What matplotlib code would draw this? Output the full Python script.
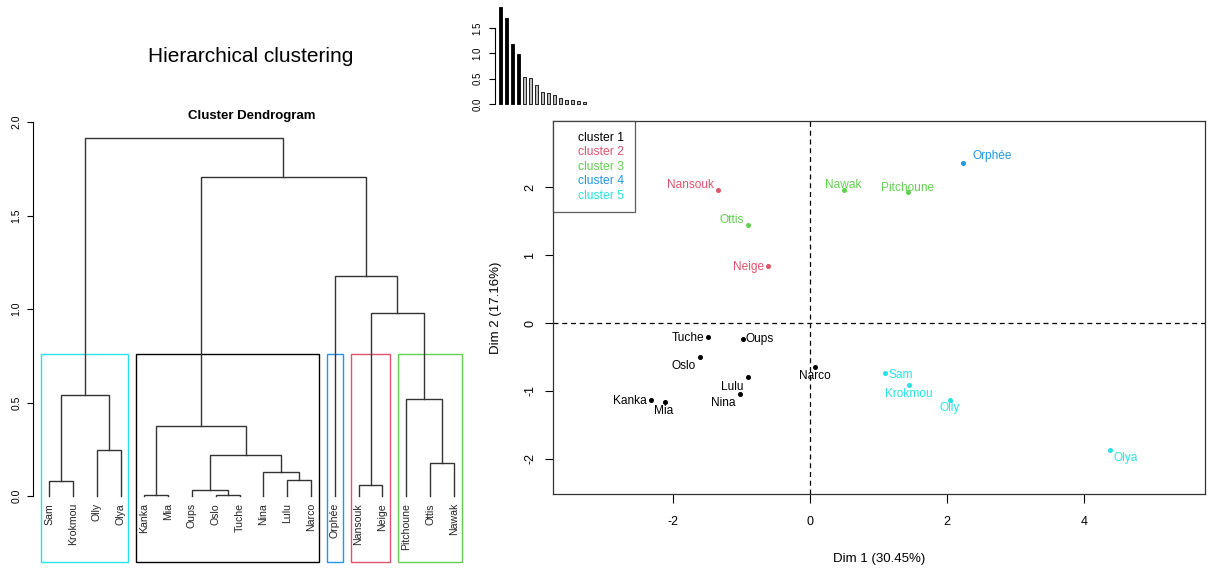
""" plot.py
Hierarchical clustering on principal components: dendrogram, inertia gain
barplot and factor map coloured by cluster.
"""

#------------------------------------------------------------------------------
#--- (0) Imports
#------------------------------------------------------------------------------
import numpy as np
import matplotlib
matplotlib.use("Agg")
import matplotlib.pyplot as plt
from matplotlib.patches import Rectangle
from matplotlib.lines import Line2D

plt.rcParams["font.family"] = ["Liberation Sans", "DejaVu Sans"]
plt.rcParams["axes.unicode_minus"] = False  # R draws a plain hyphen


#------------------------------------------------------------------------------
#--- (1) Data
#------------------------------------------------------------------------------
# leaf order of the dendrogram (left to right)
leaf_order = ["Sam", "Krokmou", "Olly", "Olya", "Kanka", "Mia", "Oups", "Oslo",
              "Tuche", "Nina", "Lulu", "Narco", "Orphée", "Nansouk", "Neige",
              "Pitchoune", "Ottis", "Nawak"]

# merges, in order: node "m<k>" is the k-th merge (1 based)
merge_left = ["Kanka", "Oslo", "Oups", "Nansouk", "Sam", "Lulu", "Nina", "Ottis",
              "m3", "Olly", "m1", "Pitchoune", "m5", "m4", "Orphée", "m11", "m13"]
merge_right = ["Mia", "Tuche", "m2", "Neige", "Krokmou", "Narco", "m6", "Nawak",
               "m7", "Olya", "m9", "m8", "m10", "m12", "m14", "m15", "m16"]
merge_height = [0.005, 0.005, 0.032, 0.057, 0.082, 0.086, 0.128, 0.175, 0.218,
                0.244, 0.373, 0.521, 0.541, 0.978, 1.174, 1.704, 1.914]

# cluster boxes on the dendrogram (groups of consecutive leaves)
box_sizes = [4, 8, 1, 2, 3]
box_clusters = [5, 1, 4, 2, 3]

# inertia gain barplot (first 15 values)
inertia_gain = [1.914, 1.704, 1.174, 0.978, 0.541, 0.521, 0.373, 0.244, 0.218,
                0.175, 0.128, 0.086, 0.082, 0.057, 0.032]
n_clusters = 5

# factor map
ind_names = ["Orphée", "Nansouk", "Nawak", "Pitchoune", "Ottis", "Neige", "Tuche",
             "Oups", "Oslo", "Narco", "Lulu", "Nina", "Kanka", "Mia", "Sam",
             "Krokmou", "Olly", "Olya"]
dim1 = [2.24, -1.35, 0.49, 1.43, -0.91, -0.61, -1.49, -0.98, -1.61, 0.07, -0.91,
        -1.02, -2.32, -2.11, 1.10, 1.44, 2.04, 4.38]
dim2 = [2.36, 1.96, 1.96, 1.92, 1.44, 0.84, -0.20, -0.23, -0.50, -0.65, -0.80,
        -1.05, -1.13, -1.16, -0.74, -0.91, -1.13, -1.87]
ind_cluster = [4, 2, 3, 3, 3, 2, 1, 1, 1, 1, 1, 1, 1, 1, 5, 5, 5, 5]

x_tick_vals = [-2, 0, 2, 4]
y_tick_vals = [-2, -1, 0, 1, 2]

# label placement on the factor map (text centre, data units)
LABEL_POS = {
    "Orphée": (2.66, 2.46), "Nansouk": (-1.75, 2.03), "Nawak": (0.48, 2.03),
    "Pitchoune": (1.43, 1.99), "Ottis": (-1.14, 1.51), "Neige": (-0.90, 0.83),
    "Tuche": (-1.78, -0.22), "Oups": (-0.73, -0.24), "Oslo": (-1.85, -0.63),
    "Narco": (0.07, -0.78), "Lulu": (-1.13, -0.94), "Nina": (-1.26, -1.18),
    "Kanka": (-2.63, -1.15), "Mia": (-2.13, -1.29), "Sam": (1.33, -0.77),
    "Krokmou": (1.44, -1.04), "Olly": (2.04, -1.25), "Olya": (4.61, -1.98),
}

# R default palette
CLUSTER_COLOURS = {1: "#000000", 2: "#DF536B", 3: "#61D04F", 4: "#2297E6", 5: "#28E2E5"}

W, H = 1208, 570
fig = plt.figure(figsize=(W / 100, H / 100), dpi=100)


def px_axes(left, top, right, bottom):
    # axes placed with pixel coordinates of the picture
    return fig.add_axes([left / W, 1 - bottom / H, (right - left) / W, (bottom - top) / H])


#------------------------------------------------------------------------------
#--- (2) Dendrogram
#------------------------------------------------------------------------------
ax_d = px_axes(33, 122, 470, 562.4)
ylim_bottom = -0.355

pos = {name: i + 1 for i, name in enumerate(leaf_order)}
top = {name: 0.0 for name in leaf_order}
for k, (a, b, h) in enumerate(zip(merge_left, merge_right, merge_height)):
    xa, xb = pos[a], pos[b]
    ax_d.plot([xa, xa, xb, xb], [top[a], h, h, top[b]], color="#333333", lw=1.0,
              solid_joinstyle="miter")
    node = "m%d" % (k + 1)
    pos[node] = (xa + xb) / 2
    top[node] = h

for name in leaf_order:
    ax_d.text(pos[name], -0.038, name, rotation=90, rotation_mode="anchor",
              ha="right", va="center", fontsize=7.6, color="#222222")

# cluster rectangles (as rect.hclust)
sorted_h = sorted(merge_height, reverse=True)
box_top = (sorted_h[n_clusters - 2] + sorted_h[n_clusters - 1]) / 2
start = 1
for size, cl in zip(box_sizes, box_clusters):
    x0 = start - 0.34
    x1 = start + size - 1 + 0.33
    ax_d.add_patch(Rectangle((x0, ylim_bottom), x1 - x0, box_top - ylim_bottom,
                             fill=False, ec=CLUSTER_COLOURS[cl], lw=1.0, clip_on=False))
    start += size

ax_d.set_xlim(0.32, 18.68)
ax_d.set_ylim(ylim_bottom, 2.0)
for s in ["top", "right", "bottom"]:
    ax_d.spines[s].set_visible(False)
ax_d.spines["left"].set_bounds(0, 2)
ax_d.spines["left"].set_linewidth(0.8)
ax_d.set_xticks([])
ax_d.set_yticks([0, 0.5, 1.0, 1.5, 2.0])
ax_d.set_yticklabels(["0.0", "0.5", "1.0", "1.5", "2.0"], rotation=90, va="center")
ax_d.tick_params(axis="y", length=4.5, width=0.8, labelsize=7.5, pad=4)
ax_d.set_title("Cluster Dendrogram", fontsize=9.5, fontweight="bold", pad=-2)

fig.text(251 / W, 1 - 56 / H, "Hierarchical clustering", fontsize=15,
         ha="center", va="center")


#------------------------------------------------------------------------------
#--- (3) Inertia gain barplot
#------------------------------------------------------------------------------
ax_b = px_axes(495, 3.1, 605, 107.9)
bar_x = 0.7 + 1.2 * np.arange(len(inertia_gain))
bar_cols = ["black" if i < n_clusters - 1 else "#BEBEBE" for i in range(len(inertia_gain))]
ax_b.bar(bar_x, inertia_gain, width=0.78, color=bar_cols, edgecolor="black", lw=0.6)
ax_b.set_xlim(-0.4, 21.6)
ax_b.set_ylim(-0.077, 1.99)
for s in ["top", "right", "bottom"]:
    ax_b.spines[s].set_visible(False)
ax_b.spines["left"].set_bounds(0, 1.5)
ax_b.spines["left"].set_linewidth(0.8)
ax_b.set_xticks([])
ax_b.set_yticks([0, 0.5, 1.0, 1.5])
ax_b.set_yticklabels(["0.0", "0.5", "1.0", "1.5"], rotation=90, va="center")
ax_b.tick_params(axis="y", length=4, width=0.8, labelsize=7, pad=5)


#------------------------------------------------------------------------------
#--- (4) Factor map
#------------------------------------------------------------------------------
ax = px_axes(553, 121, 1205, 494)
ax.axvline(0, color="black", ls=(0, (4, 3)), lw=0.9)
ax.axhline(0, color="black", ls=(0, (4, 3)), lw=0.9)

for name, x, y, cl in zip(ind_names, dim1, dim2, ind_cluster):
    col = CLUSTER_COLOURS[cl]
    ax.plot(x, y, "o", ms=2.6, color=col, mec=col)
    lx, ly = LABEL_POS[name]
    ax.text(lx, ly, name, color=col, fontsize=8.6, ha="center", va="center")

ax.set_xlim(-3.752, 5.766)
ax.set_ylim(-2.515, 2.971)
ax.set_xticks(x_tick_vals)
ax.set_yticks(y_tick_vals)
ax.set_yticklabels([str(v) for v in y_tick_vals], rotation=90, va="center")
ax.tick_params(axis="x", length=6.5, width=0.8, labelsize=9, pad=9)
ax.tick_params(axis="y", length=6, width=0.8, labelsize=9, pad=6)
for s in ax.spines.values():
    s.set_linewidth(0.9)
    s.set_color("#333333")
ax.set_xlabel("Dim 1 (30.45%)", fontsize=9.5, labelpad=18)
ax.set_ylabel("Dim 2 (17.16%)", fontsize=9.5, labelpad=16)

handles = [Line2D([], [], ls="none") for _ in range(n_clusters)]
leg = ax.legend(handles, ["cluster %d" % (i + 1) for i in range(n_clusters)],
                loc="upper left", borderaxespad=0, fancybox=False, fontsize=8.7,
                handlelength=0.8, handletextpad=0.4, labelspacing=0.2,
                borderpad=0.9,
                labelcolor=[CLUSTER_COLOURS[i + 1] for i in range(n_clusters)])
leg.get_frame().set_edgecolor("#333333")
leg.get_frame().set_linewidth(0.9)

fig.savefig("out.png", dpi=100)
